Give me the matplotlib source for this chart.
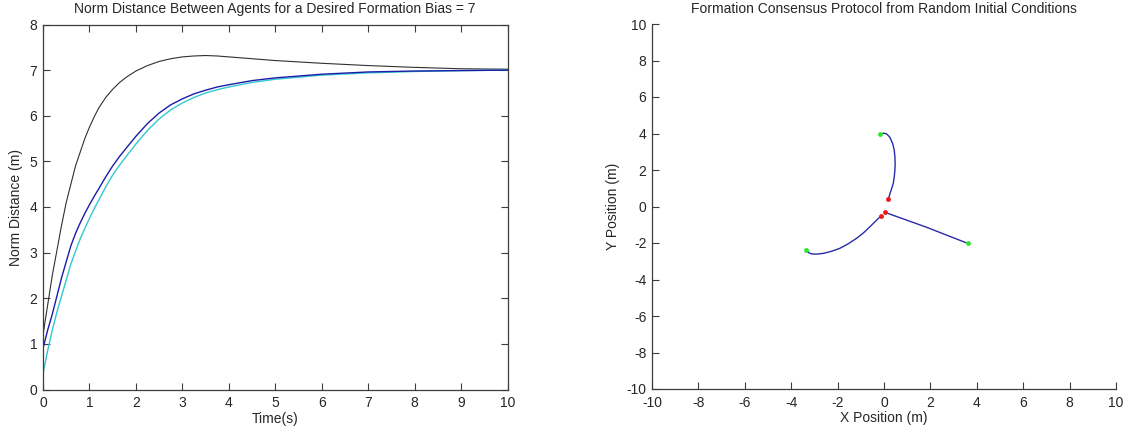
import matplotlib
matplotlib.use('Agg')
import matplotlib.pyplot as plt
import numpy as np

plt.rcParams['font.family'] = ['Liberation Sans', 'DejaVu Sans']
plt.rcParams['axes.unicode_minus'] = False

# left panel: norm distance between agents over time
time_s = [0, 0.1, 0.2, 0.3, 0.4, 0.5, 0.6, 0.7, 0.8, 0.9, 1.0, 1.1, 1.2, 1.35,
          1.5, 1.65, 1.8, 2.0, 2.25, 2.5, 2.75, 3.0, 3.25, 3.5, 3.75, 4.0, 4.5,
          5.0, 6.0, 7.0, 8.0, 9.0, 10.0]
dist_black = [1.2, 1.85, 2.5, 3.05, 3.6, 4.1, 4.5, 4.9, 5.2, 5.5, 5.75, 5.97, 6.17, 6.4,
              6.58, 6.73, 6.85, 6.98, 7.1, 7.19, 7.25, 7.29, 7.31, 7.32, 7.31, 7.29, 7.25,
              7.21, 7.15, 7.1, 7.06, 7.03, 7.02]
dist_blue = [0.9, 1.3, 1.65, 2.05, 2.45, 2.8, 3.15, 3.42, 3.65, 3.86, 4.05, 4.23, 4.4, 4.66,
             4.9, 5.11, 5.3, 5.55, 5.83, 6.06, 6.24, 6.37, 6.48, 6.56, 6.63, 6.68, 6.77,
             6.83, 6.91, 6.96, 6.98, 6.99, 7.0]
dist_cyan = [0.35, 0.85, 1.3, 1.7, 2.05, 2.4, 2.75, 3.03, 3.3, 3.53, 3.75, 3.96, 4.15, 4.44,
             4.7, 4.92, 5.12, 5.38, 5.68, 5.93, 6.13, 6.28, 6.4, 6.5, 6.57, 6.63, 6.73,
             6.8, 6.89, 6.94, 6.97, 6.99, 7.0]

# right panel: agent trajectories (x, y)
agent1_x = [-0.17, 0.0, 0.12, 0.25, 0.37, 0.44, 0.47, 0.48, 0.47, 0.44, 0.4, 0.33, 0.26, 0.19]
agent1_y = [3.96, 4.02, 3.97, 3.8, 3.46, 3.1, 2.73, 2.35, 2.0, 1.6, 1.27, 0.98, 0.72, 0.41]
agent2_x = [-3.36, -3.25, -3.12, -2.9, -2.62, -2.25, -1.9, -1.55, -1.18, -0.88, -0.6, -0.4,
            -0.24, -0.14]
agent2_y = [-2.38, -2.53, -2.6, -2.61, -2.57, -2.45, -2.29, -2.05, -1.74, -1.44, -1.1, -0.85,
            -0.65, -0.52]
agent3_x = [3.61, 1.84, 0.04]
agent3_y = [-2.02, -1.14, -0.32]

TXT = '#262626'
SPINE = '#3c3c3c'
FS = 10

fig = plt.figure(figsize=(11.29, 4.37), dpi=100)

# ---- left plot
ax1 = fig.add_axes([43 / 1129, 1 - 389.5 / 437, 464.5 / 1129, 365 / 437])
ax1.plot(time_s, dist_black, color='#303030', lw=0.8)
ax1.plot(time_s, dist_cyan, color='#33c8d0', lw=1.0)
ax1.plot(time_s, dist_blue, color='#1c1ca8', lw=1.0)
ax1.set_xlim(0, 10)
ax1.set_ylim(0, 8)
ax1.set_xticks(range(0, 11))
ax1.set_yticks(range(0, 9))
ax1.tick_params(direction='in', length=5, width=0.8, color=SPINE,
                top=True, right=True, labelsize=FS, labelcolor=TXT)
ax1.tick_params(axis='x', pad=5)
ax1.tick_params(axis='y', pad=4)
for s in ax1.spines.values():
    s.set_color(SPINE)
    s.set_linewidth(0.9)
ax1.set_title('Norm Distance Between Agents for a Desired Formation Bias = 7',
              fontsize=FS, color=TXT, pad=8)
ax1.set_xlabel('Time(s)', fontsize=FS, color=TXT, labelpad=1)
ax1.set_ylabel('Norm Distance (m)', fontsize=FS, color=TXT, labelpad=5)

# ---- right plot
ax2 = fig.add_axes([652 / 1129, 1 - 389 / 437, 464 / 1129, 365 / 437])
for xs, ys in [(agent1_x, agent1_y), (agent2_x, agent2_y), (agent3_x, agent3_y)]:
    ax2.plot(xs, ys, color='#2a2aa8', lw=1.0)
    ax2.plot(xs[0], ys[0], 'o', color='#2ee82e', ms=3.5, mec='none')
    ax2.plot(xs[-1], ys[-1], 'o', color='#ee1818', ms=3.5, mec='none')
ax2.set_xlim(-10, 10)
ax2.set_ylim(-10, 10)
ax2.set_xticks(range(-10, 11, 2))
ax2.set_yticks(range(-10, 11, 2))
ax2.tick_params(direction='in', length=5, width=0.8, color=SPINE,
                labelsize=FS, labelcolor=TXT)
ax2.tick_params(axis='x', pad=5)
ax2.tick_params(axis='y', pad=4)
ax2.spines['top'].set_visible(False)
ax2.spines['right'].set_visible(False)
for s in ax2.spines.values():
    s.set_color(SPINE)
    s.set_linewidth(0.9)
ax2.set_title('Formation Consensus Protocol from Random Initial Conditions',
              fontsize=FS, color=TXT, pad=8)
ax2.set_xlabel('X Position (m)', fontsize=FS, color=TXT, labelpad=1)
ax2.set_ylabel('Y Position (m)', fontsize=FS, color=TXT, labelpad=5)

fig.savefig('out.png', dpi=100)
